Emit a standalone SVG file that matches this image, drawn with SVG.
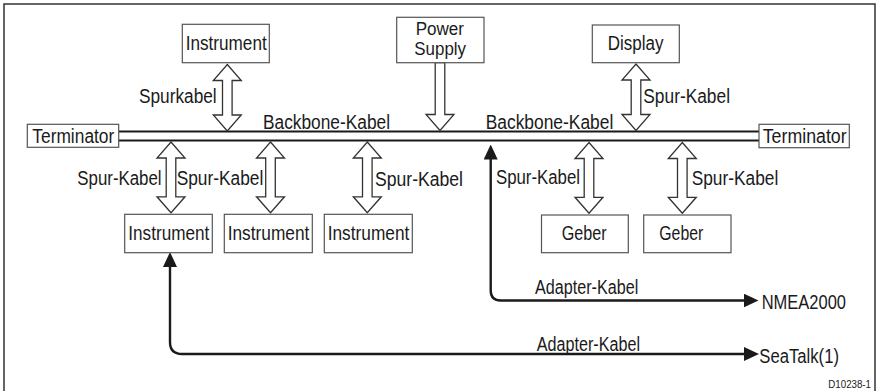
<svg xmlns="http://www.w3.org/2000/svg" xmlns:xlink="http://www.w3.org/1999/xlink" width="880" height="391" viewBox="0 0 880 391">
<style>
.frame{fill:none;stroke:#333;stroke-width:1.5}
.box{fill:#fff;stroke:#555;stroke-width:1.2}
.t{font-family:"Liberation Sans",Arial,sans-serif;font-size:19.5px;fill:#1a1a1a}
.ps{font-family:"Liberation Sans",Arial,sans-serif;font-size:17.5px;fill:#1a1a1a}
.small{font-family:"Liberation Sans",Arial,sans-serif;font-size:11.5px;fill:#1a1a1a}
.bb{fill:none;stroke:#1a1a1a;stroke-width:2.2}
.spur{fill:#fff;stroke:#333;stroke-width:1.3;stroke-linejoin:miter}
.adapt{fill:none;stroke:#1a1a1a;stroke-width:2.4;marker-start:url(#ah);marker-end:url(#ah)}
</style>
<defs>
<marker id="ah" markerUnits="userSpaceOnUse" markerWidth="15" markerHeight="14" viewBox="0 0 15 14" refX="0.5" refY="7" orient="auto-start-reverse">
<path d="M0,0 L15,7 L0,14 Z" fill="#1a1a1a"/>
</marker>
<path id="spurTop" d="M0,0 L14,16 L4.8,16 L4.8,50.5 L14,50.5 L0,66.5 L-14,50.5 L-4.8,50.5 L-4.8,16 L-14,16 Z"/>
<path id="spurBot" d="M0,0 L14,16 L4.8,16 L4.8,54.8 L14,54.8 L0,70.8 L-14,54.8 L-4.8,54.8 L-4.8,16 L-14,16 Z"/>
</defs>
<rect width="880" height="391" fill="#fff"/>
<rect class="frame" x="4" y="4" width="871" height="400"/>

<g id="connectors">
<line class="bb" x1="118.7" y1="131.5" x2="759" y2="131.5"/>
<line class="bb" x1="118.7" y1="140.5" x2="759" y2="140.5"/>
<use class="spur" xlink:href="#spurTop" x="227.3" y="64.5"/>
<use class="spur" xlink:href="#spurTop" x="636" y="64"/>
<polygon class="spur" points="435.2,62.7 444.8,62.7 444.8,114.5 454,114.5 440,130.5 426,114.5 435.2,114.5"/>
<use class="spur" xlink:href="#spurBot" x="171" y="142"/>
<use class="spur" xlink:href="#spurBot" x="270.5" y="142"/>
<use class="spur" xlink:href="#spurBot" x="367.3" y="142"/>
<use class="spur" xlink:href="#spurBot" x="589" y="142.5"/>
<use class="spur" xlink:href="#spurBot" x="682.3" y="142.5"/>
<path class="adapt" d="M490.7,159 L490.7,290.5 Q490.7,300.5 500.7,300.5 L744,300.5"/>
<path class="adapt" d="M170,266.5 L170,342 Q170,354 182,354 L744.5,354"/>
<text class="t" x="139" y="103.3" textLength="77.7" lengthAdjust="spacingAndGlyphs">Spurkabel</text>
<text class="t" x="643.3" y="103.3" textLength="86.7" lengthAdjust="spacingAndGlyphs">Spur-Kabel</text>
<text class="t" x="263" y="129" textLength="127" lengthAdjust="spacingAndGlyphs">Backbone-Kabel</text>
<text class="t" x="485.7" y="129" textLength="127.6" lengthAdjust="spacingAndGlyphs">Backbone-Kabel</text>
<text class="t" x="77.3" y="185" textLength="84.3" lengthAdjust="spacingAndGlyphs">Spur-Kabel</text>
<text class="t" x="176.7" y="185" textLength="86.6" lengthAdjust="spacingAndGlyphs">Spur-Kabel</text>
<text class="t" x="375" y="185.5" textLength="88" lengthAdjust="spacingAndGlyphs">Spur-Kabel</text>
<text class="t" x="496" y="184" textLength="84" lengthAdjust="spacingAndGlyphs">Spur-Kabel</text>
<text class="t" x="691.7" y="185" textLength="86.6" lengthAdjust="spacingAndGlyphs">Spur-Kabel</text>
<text class="t" x="535" y="294" textLength="103.3" lengthAdjust="spacingAndGlyphs">Adapter-Kabel</text>
<text class="t" x="536.7" y="350.5" textLength="103.3" lengthAdjust="spacingAndGlyphs">Adapter-Kabel</text>
</g>

<g id="terminator-left">
<rect class="box" x="27.3" y="124.3" width="91.4" height="23"/>
<text class="t" x="32.3" y="142.5" textLength="82" lengthAdjust="spacingAndGlyphs">Terminator</text>
</g>
<g id="terminator-right">
<rect class="box" x="759" y="124.3" width="90.3" height="23.4"/>
<text class="t" x="762.7" y="142.5" textLength="84" lengthAdjust="spacingAndGlyphs">Terminator</text>
</g>
<g id="instrument-top">
<rect class="box" x="182.3" y="24.3" width="87" height="38.4"/>
<text class="t" x="185.7" y="50" textLength="81" lengthAdjust="spacingAndGlyphs">Instrument</text>
</g>
<g id="power-supply">
<rect class="box" x="396.7" y="17.3" width="87.3" height="45.4"/>
<text class="ps" x="415.7" y="35" textLength="48.3" lengthAdjust="spacingAndGlyphs">Power</text>
<text class="ps" x="414.3" y="54.5" textLength="51.7" lengthAdjust="spacingAndGlyphs">Supply</text>
</g>
<g id="display">
<rect class="box" x="592.3" y="25" width="87" height="37.7"/>
<text class="t" x="607.7" y="50" textLength="55.7" lengthAdjust="spacingAndGlyphs">Display</text>
</g>
<g id="instrument-1">
<rect class="box" x="124.7" y="214.3" width="87.6" height="38.4"/>
<text class="t" x="128.3" y="240" textLength="81" lengthAdjust="spacingAndGlyphs">Instrument</text>
</g>
<g id="instrument-2">
<rect class="box" x="224.3" y="214.3" width="88" height="38.4"/>
<text class="t" x="227.7" y="240" textLength="81.6" lengthAdjust="spacingAndGlyphs">Instrument</text>
</g>
<g id="instrument-3">
<rect class="box" x="324.3" y="214.3" width="88" height="38.4"/>
<text class="t" x="327.7" y="240" textLength="81.6" lengthAdjust="spacingAndGlyphs">Instrument</text>
</g>
<g id="geber-1">
<rect class="box" x="541.5" y="215" width="86.8" height="37.7"/>
<text class="t" x="561.7" y="240" textLength="45" lengthAdjust="spacingAndGlyphs">Geber</text>
</g>
<g id="geber-2">
<rect class="box" x="643.7" y="215" width="87.3" height="37.7"/>
<text class="t" x="659.3" y="240" textLength="44" lengthAdjust="spacingAndGlyphs">Geber</text>
</g>
<g id="nmea2000">
<text class="t" x="761.7" y="309" textLength="84.3" lengthAdjust="spacingAndGlyphs">NMEA2000</text>
</g>
<g id="seatalk">
<text class="t" x="759.3" y="362.5" textLength="79.7" lengthAdjust="spacingAndGlyphs">SeaTalk(1)</text>
</g>
<text class="small" x="828.3" y="388" textLength="42.7" lengthAdjust="spacingAndGlyphs">D10238-1</text>
</svg>
